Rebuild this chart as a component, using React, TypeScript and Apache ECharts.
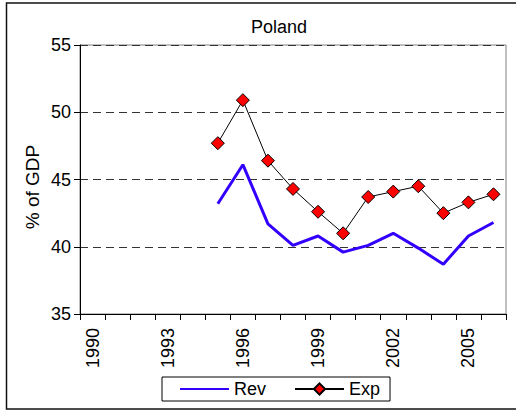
import React, { useEffect, useRef } from "react";
import * as echarts from "echarts";

const years = ["1990", "1991", "1992", "1993", "1994", "1995", "1996", "1997", "1998", "1999", "2000", "2001", "2002", "2003", "2004", "2005", "2006"];
const revenue = [null, null, null, null, null, 43.2, 46.1, 41.7, 40.1, 40.8, 39.6, 40.1, 41.0, 39.9, 38.7, 40.8, 41.8];
const expenditure = [null, null, null, null, null, 47.7, 50.9, 46.4, 44.3, 42.6, 41.0, 43.7, 44.1, 44.5, 42.5, 43.3, 43.9];
const seriesNames = ["Rev", "Exp"];
const titleText = "Poland";
const yAxisTitle = "% of GDP";

const FONT = "'Liberation Sans', Arial, sans-serif";

export default function App() {
  const ref = useRef<HTMLDivElement>(null);
  useEffect(() => {
    if (!ref.current) return;
    const chart = echarts.init(ref.current, null, { renderer: "svg" });
    chart.setOption({
      animation: false,
      backgroundColor: "#fff",
      textStyle: { fontFamily: FONT },
      title: {
        text: titleText,
        left: 251,
        top: 18,
        padding: 0,
        textStyle: { fontSize: 18, fontWeight: "normal", color: "#000", fontFamily: FONT },
      },
      graphic: [
        {
          type: "rect",
          shape: { x: 6.5, y: 3, width: 520, height: 406 },
          style: { fill: "none", stroke: "#111", lineWidth: 1.5 },
          silent: true,
          z: 100,
        },
        {
          type: "text",
          x: 32,
          y: 187,
          rotation: Math.PI / 2,
          style: {
            text: yAxisTitle,
            fontSize: 19,
            fontFamily: FONT,
            fill: "#000",
            textAlign: "center",
            textVerticalAlign: "middle",
          },
        },
      ],
      legend: {
        data: [
          { name: seriesNames[0], itemStyle: { opacity: 0 } },
          { name: seriesNames[1] },
        ],
        left: 162,
        top: 377,
        orient: "horizontal",
        borderColor: "#000",
        borderWidth: 1,
        padding: [3, 10, 3, 17],
        itemWidth: 49,
        itemHeight: 14,
        itemGap: 28,
        textStyle: { fontSize: 18, color: "#000", fontFamily: FONT },
      },
      grid: {
        left: 80,
        right: 10,
        top: 45,
        bottom: 98,
        show: true,
        borderColor: "#808080",
        borderWidth: 1,
        backgroundColor: "#fff",
      },
      xAxis: {
        type: "category",
        data: years,
        boundaryGap: true,
        axisLine: { show: true, lineStyle: { color: "#000", width: 1 } },
        axisTick: { show: true, interval: 0, length: 6, lineStyle: { color: "#000" } },
        axisLabel: {
          interval: 2,
          rotate: 90,
          margin: 14,
          fontSize: 18,
          color: "#000",
          fontFamily: FONT,
        },
        splitLine: { show: false },
      },
      yAxis: {
        type: "value",
        min: 35,
        max: 55,
        interval: 5,
        axisLine: { show: true, lineStyle: { color: "#000", width: 1 } },
        axisTick: { show: true, length: 6, lineStyle: { color: "#000" } },
        axisLabel: { margin: 9, fontSize: 18, color: "#000", fontFamily: FONT },
        splitLine: { show: true, lineStyle: { color: "#333", type: [8, 5], width: 1 } },
      },
      series: [
        {
          name: seriesNames[0],
          type: "line",
          data: revenue,
          symbol: "none",
          color: "#3300ff",
          lineStyle: { color: "#3300ff", width: 3 },
          z: 2,
        },
        {
          name: seriesNames[1],
          type: "line",
          data: expenditure,
          symbol: "diamond",
          symbolSize: 13,
          color: "#ff0000",
          itemStyle: { color: "#ff0000", borderColor: "#000", borderWidth: 1 },
          lineStyle: { color: "#000", width: 1 },
          z: 3,
        },
      ],
    });
    return () => chart.dispose();
  }, []);
  return (
    <div
      ref={ref}
      style={{ position: "fixed", left: 0, top: 0, width: 516, height: 412 }}
    />
  );
}
